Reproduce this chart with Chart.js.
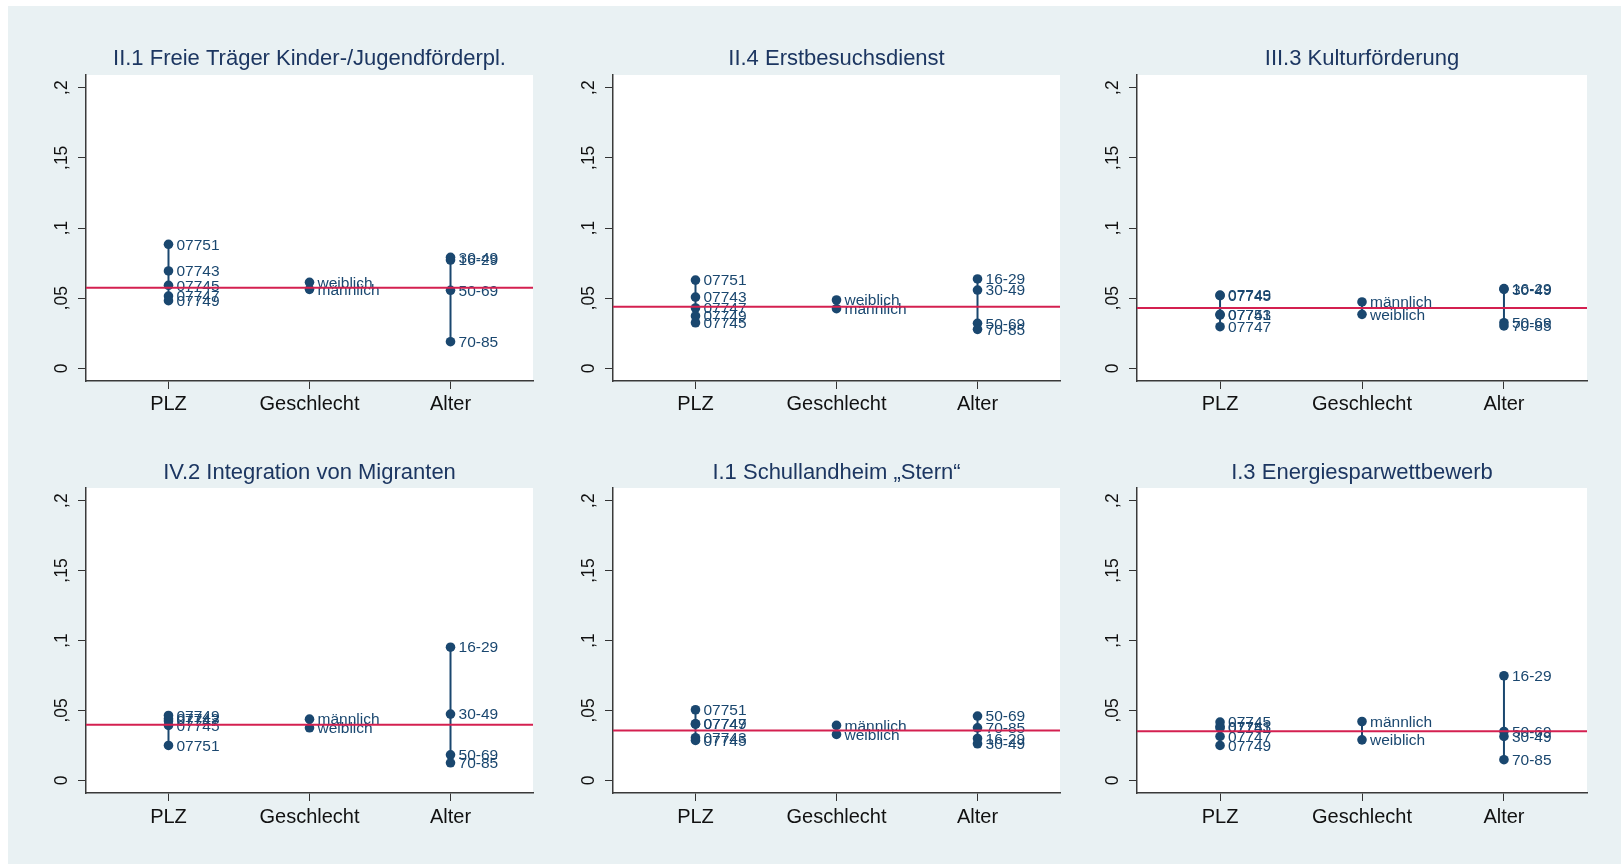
<!DOCTYPE html>
<html>
<head>
<meta charset="utf-8">
<script src="https://cdn.jsdelivr.net/npm/chart.js@4.4.1/dist/chart.umd.min.js"></script>
<style>
  body { margin: 0; background: #fff; width: 1621px; height: 864px; overflow: hidden; position: relative; }
  #bg { position: absolute; left: 8px; top: 6px; right: 0; bottom: 0; background: #e9f1f3; }
  canvas { position: absolute; }
</style>
</head>
<body>
<div id="bg"></div>
<canvas id="c0"></canvas>
<canvas id="c1"></canvas>
<canvas id="c2"></canvas>
<canvas id="c3"></canvas>
<canvas id="c4"></canvas>
<canvas id="c5"></canvas>
<script>
const categories = ['PLZ', 'Geschlecht', 'Alter'];
const plzCodes = ['07743', '07745', '07747', '07749', '07751'];
const sexLabels = ['männlich', 'weiblich'];
const ageLabels = ['16-29', '30-49', '50-69', '70-85'];
const yTicks = [0, 0.05, 0.1, 0.15, 0.2];
const yTickLabels = ['0', ',05', ',1', ',15', ',2'];

const titles = [
  'II.1 Freie Träger Kinder-/Jugendförderpl.',
  'II.4 Erstbesuchsdienst',
  'III.3 Kulturförderung',
  'IV.2 Integration von Migranten',
  'I.1 Schullandheim „Stern“',
  'I.3 Energiesparwettbewerb'
];

// values in the order of plzCodes / sexLabels / ageLabels
const plz1 = [0.0694, 0.0592, 0.0515, 0.0482, 0.0884];
const sex1 = [0.0563, 0.0613];
const age1 = [0.0772, 0.0791, 0.0556, 0.0190];

const plz2 = [0.0508, 0.0325, 0.0430, 0.0373, 0.0629];
const sex2 = [0.0425, 0.0487];
const age2 = [0.0637, 0.0558, 0.0321, 0.0278];

const plz3 = [0.0380, 0.0518, 0.0297, 0.0522, 0.0385];
const sex3 = [0.0473, 0.0385];
const age3 = [0.0568, 0.0563, 0.0325, 0.0302];

const plz4 = [0.0440, 0.0393, 0.0424, 0.0464, 0.0250];
const sex4 = [0.0438, 0.0376];
const age4 = [0.0952, 0.0474, 0.0183, 0.0126];

const plz5 = [0.0305, 0.0286, 0.0402, 0.0405, 0.0505];
const sex5 = [0.0393, 0.0329];
const age5 = [0.0300, 0.0262, 0.0460, 0.0376];

const plz6 = [0.0386, 0.0417, 0.0314, 0.0250, 0.0374];
const sex6 = [0.0421, 0.0290];
const age6 = [0.0748, 0.0314, 0.0350, 0.0148];

const means = [0.0575, 0.0439, 0.0430, 0.0398, 0.0357, 0.0352];

const panelValues = [
  [plz1, sex1, age1], [plz2, sex2, age2], [plz3, sex3, age3],
  [plz4, sex4, age4], [plz5, sex5, age5], [plz6, sex6, age6]
];
const groupLabels = [plzCodes, sexLabels, ageLabels];

const NAVY = '#1a476f';
const RED = '#d42050';
const FONT = '"Liberation Sans", Arial, sans-serif';
const X_MIN = 0.415, X_MAX = 3.585;

// page layout of each panel (plot box in page pixels)
const cols = [
  { cx: 8, cw: 540, L: 86, R: 533 },
  { cx: 548, cw: 520, L: 613, R: 1060 },
  { cx: 1068, cw: 553, L: 1137, R: 1587 }
];
const rows = [
  { cy: 6, ch: 424, T: 75, B: 381, titleY: 59, labY: 404 },
  { cy: 430, ch: 434, T: 488, B: 793, titleY: 472.5, labY: 817 }
];

const plotBg = {
  id: 'plotBg',
  beforeDraw(chart) {
    const { ctx, chartArea: a } = chart;
    ctx.save();
    ctx.fillStyle = '#fff';
    ctx.fillRect(a.left, a.top, a.right - a.left, a.bottom - a.top);
    ctx.restore();
  }
};

const pointLabels = {
  id: 'pointLabels',
  afterDatasetDraw(chart, args) {
    if (args.index !== 1) return;
    const ctx = chart.ctx;
    const pts = chart.data.datasets[1].data;
    ctx.save();
    ctx.font = '15.5px ' + FONT;
    ctx.fillStyle = NAVY;
    ctx.textAlign = 'left';
    ctx.textBaseline = 'middle';
    args.meta.data.forEach((el, i) => {
      ctx.fillText(pts[i].label, el.x + 8, el.y + 1);
    });
    ctx.restore();
  }
};

titles.forEach((title, p) => {
  const col = cols[p % 3], row = rows[Math.floor(p / 3)];
  const cv = document.getElementById('c' + p);
  cv.width = col.cw; cv.height = row.ch;
  cv.style.left = col.cx + 'px'; cv.style.top = row.cy + 'px';

  const vals = panelValues[p];
  const points = [];
  const ranges = [];
  vals.forEach((arr, g) => {
    arr.forEach((v, i) => points.push({ x: g + 1, y: v, label: groupLabels[g][i] }));
    ranges.push({
      type: 'scatter', showLine: true,
      data: [{ x: g + 1, y: Math.min(...arr) }, { x: g + 1, y: Math.max(...arr) }],
      borderColor: NAVY, borderWidth: 2, pointRadius: 0
    });
  });

  const padTop = row.titleY - row.cy - 13.2;
  const padBottom = row.T - row.cy - padTop - 26.4;

  new Chart(cv, {
    type: 'scatter',
    data: {
      datasets: [
        {
          showLine: true,
          data: [{ x: X_MIN, y: means[p] }, { x: X_MAX, y: means[p] }],
          borderColor: RED, borderWidth: 2, pointRadius: 0
        },
        {
          data: points,
          pointRadius: 4.8, pointBackgroundColor: NAVY, pointBorderWidth: 0
        },
        ...ranges
      ]
    },
    options: {
      responsive: false,
      animation: false,
      events: [],
      layout: {
        padding: {
          left: col.L - col.cx - 40,
          right: col.cx + col.cw - col.R,
          top: 0,
          bottom: row.cy + row.ch - row.B - 40
        }
      },
      plugins: {
        legend: { display: false },
        tooltip: { enabled: false },
        title: {
          display: true, text: title, color: '#1c3661', fullSize: false,
          font: { size: 22, weight: 'normal', family: FONT },
          padding: { top: padTop, bottom: padBottom }
        }
      },
      scales: {
        x: {
          type: 'linear', min: X_MIN, max: X_MAX,
          afterBuildTicks: s => { s.ticks = categories.map((c, i) => ({ value: i + 1 })); },
          afterFit: s => { s.height = 40; },
          ticks: {
            callback: (v, i) => categories[i],
            color: '#111', font: { size: 20, family: FONT },
            padding: row.labY - row.B - 8 - 12,
            maxRotation: 0, autoSkip: false
          },
          grid: { drawOnChartArea: false, drawTicks: true, tickLength: 8, tickColor: '#333', tickWidth: 1 },
          border: { display: true, color: '#3a3a3a', width: 1.5 }
        },
        y: {
          type: 'linear', min: -0.009, max: 0.209,
          afterBuildTicks: s => { s.ticks = yTicks.map(v => ({ value: v })); },
          afterFit: s => { s.width = 40; },
          ticks: {
            callback: (v, i) => yTickLabels[i],
            minRotation: 90, maxRotation: 90, crossAlign: 'center',
            padding: 4, autoSkip: false,
            color: '#111', font: { size: 17.5, family: FONT }
          },
          grid: { drawOnChartArea: false, drawTicks: true, tickLength: 8, tickColor: '#333', tickWidth: 1 },
          border: { display: true, color: '#3a3a3a', width: 1.5 }
        }
      }
    },
    plugins: [plotBg, pointLabels]
  });
});
</script>
</body>
</html>
